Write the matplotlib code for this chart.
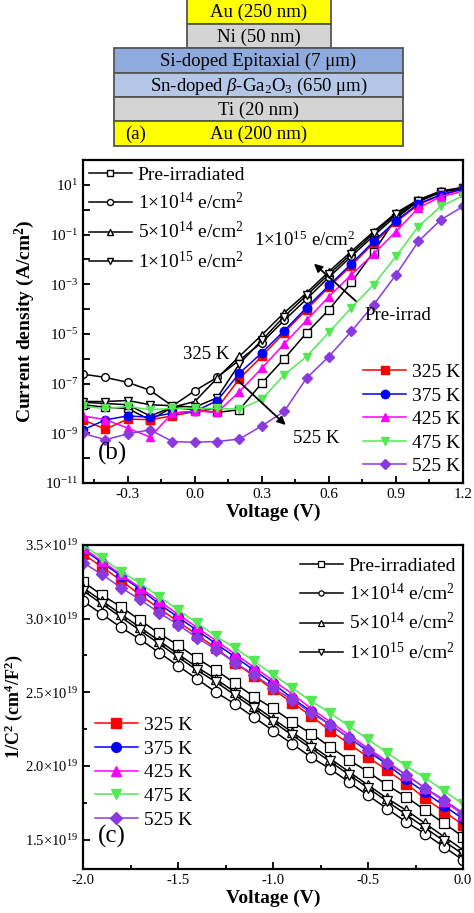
import matplotlib
matplotlib.use('Agg')
import matplotlib.pyplot as plt
from matplotlib.patches import Rectangle
from matplotlib.ticker import FixedLocator, MultipleLocator, FuncFormatter
import numpy as np

plt.rcParams['font.family'] = ['Liberation Serif', 'DejaVu Serif']
plt.rcParams['mathtext.fontset'] = 'custom'
plt.rcParams['mathtext.rm'] = 'Liberation Serif'
plt.rcParams['mathtext.it'] = 'Liberation Serif:italic'
plt.rcParams['mathtext.bf'] = 'Liberation Serif:bold'

W, H = 474, 913

# ---------------- data ----------------
# (b) J-V, log10(J) in A/cm^2
v_iv = [-0.5, -0.4, -0.3, -0.2, -0.1, 0.0, 0.1, 0.2, 0.3, 0.4, 0.5, 0.6, 0.7, 0.8, 0.9, 1.0, 1.1, 1.2]
iv_pre = [-7.85, -7.95, -8.0, -8.46, -7.96, -8.05, -8.16, -8.05, -6.98, -6.0, -4.96, -4.03, -2.93, -1.7, -0.35, 0.35, 0.72, 0.88]
iv_1e14 = [-6.62, -6.75, -6.95, -7.27, -7.9, -7.29, -6.75, -6.05, -5.35, -4.45, -3.6, -2.72, -1.88, -1.05, -0.25, 0.32, 0.7, 0.86]
iv_5e14 = [-7.75, -7.8, -7.85, -8.3, -7.95, -7.72, -6.78, -5.9, -5.04, -4.15, -3.35, -2.49, -1.68, -0.88, -0.13, 0.4, 0.75, 0.9]
iv_1e15 = [-7.72, -7.72, -7.68, -7.85, -7.89, -7.95, -7.57, -6.2, -5.25, -4.3, -3.45, -2.6, -1.78, -0.95, -0.18, 0.35, 0.72, 0.88]
iv_325 = [-8.46, -8.83, -8.43, -8.45, -8.3, -8.12, -7.99, -6.8, -5.9, -4.95, -4.02, -3.12, -2.25, -1.35, -0.5, 0.2, 0.58, 0.82]
iv_375 = [-8.86, -8.46, -8.3, -8.35, -8.19, -8.12, -7.69, -6.58, -5.76, -4.87, -3.94, -3.05, -2.18, -1.28, -0.45, 0.24, 0.6, 0.84]
iv_425 = [-8.3, -8.45, -8.79, -9.15, -8.19, -8.1, -8.16, -7.32, -6.38, -5.4, -4.45, -3.5, -2.62, -1.78, -0.88, 0.07, 0.52, 0.74]
iv_475 = [-7.92, -8.0, -7.92, -8.05, -8.0, -8.0, -8.0, -8.03, -7.63, -6.65, -5.91, -4.94, -3.95, -3.02, -1.88, -0.68, 0.13, 0.56]
iv_525 = [-9.0, -9.26, -9.02, -8.86, -9.33, -9.36, -9.33, -9.23, -8.7, -8.12, -6.78, -5.91, -4.9, -3.83, -2.62, -1.28, -0.41, 0.13]

# (c) 1/C^2 vs V, units of 1e19 cm^4/F^2
v_cv = [-2.0, -1.9, -1.8, -1.7, -1.6, -1.5, -1.4, -1.3, -1.2, -1.1, -1.0,
        -0.9, -0.8, -0.7, -0.6, -0.5, -0.4, -0.3, -0.2, -0.1, 0.0]
cv_pre = [3.25, 3.16, 3.08, 2.99, 2.90, 2.82, 2.73, 2.65, 2.56, 2.47, 2.39, 2.30, 2.22, 2.13, 2.04, 1.96, 1.87, 1.79, 1.70, 1.61, 1.52]
cv_1e14 = [3.12, 3.03, 2.94, 2.86, 2.77, 2.68, 2.59, 2.50, 2.42, 2.33, 2.24, 2.15, 2.06, 1.98, 1.89, 1.80, 1.71, 1.62, 1.54, 1.45, 1.36]
cv_5e14 = [3.21, 3.12, 3.03, 2.94, 2.85, 2.76, 2.67, 2.59, 2.50, 2.41, 2.32, 2.23, 2.14, 2.05, 1.96, 1.87, 1.78, 1.70, 1.61, 1.52, 1.43]
cv_1e15 = [3.19, 3.10, 3.01, 2.92, 2.83, 2.74, 2.65, 2.57, 2.48, 2.39, 2.30, 2.21, 2.12, 2.03, 1.94, 1.85, 1.76, 1.67, 1.58, 1.49, 1.40]
cv_325 = [3.44, 3.35, 3.26, 3.16, 3.07, 2.98, 2.89, 2.80, 2.70, 2.61, 2.52, 2.43, 2.34, 2.24, 2.15, 2.06, 1.97, 1.88, 1.78, 1.69, 1.60]
cv_375 = [3.47, 3.38, 3.29, 3.20, 3.10, 3.01, 2.92, 2.83, 2.74, 2.65, 2.56, 2.46, 2.37, 2.28, 2.19, 2.10, 2.01, 1.91, 1.82, 1.73, 1.64]
cv_425 = [3.48, 3.39, 3.30, 3.21, 3.12, 3.03, 2.94, 2.85, 2.76, 2.67, 2.58, 2.49, 2.39, 2.30, 2.21, 2.12, 2.03, 1.94, 1.85, 1.76, 1.67]
cv_475 = [3.50, 3.41, 3.32, 3.24, 3.15, 3.06, 2.97, 2.88, 2.80, 2.71, 2.62, 2.53, 2.44, 2.36, 2.27, 2.18, 2.09, 2.00, 1.92, 1.83, 1.74]
cv_525 = [3.38, 3.30, 3.21, 3.13, 3.04, 2.96, 2.87, 2.79, 2.70, 2.62, 2.53, 2.45, 2.36, 2.28, 2.19, 2.11, 2.02, 1.94, 1.85, 1.77, 1.68]

fluence_labels = ['Pre-irradiated', r'1$\times$10$^{14}$ e/cm$^2$',
                  r'5$\times$10$^{14}$ e/cm$^2$', r'1$\times$10$^{15}$ e/cm$^2$']
temp_labels = ['325 K', '375 K', '425 K', '475 K', '525 K']

# (a) layer stack: label, colour
layers = [('Au (250 nm)', '#FFFF00'), ('Ni (50 nm)', '#D4D4D4'),
          ('Si-doped Epitaxial (7 \u03bcm)', '#8FAADC'),
          ('Sn-doped $\\beta$-Ga$_2$O$_3$ (650 \u03bcm)', '#B4C7E7'),
          ('Ti (20 nm)', '#D4D4D4'), ('Au (200 nm)', '#FFFF00')]

fl_markers = ['s', 'o', '^', 'v']
t_colors = ['#FF0000', '#0000FF', '#FF00FF', '#55E855', '#8A3BE0']
t_markers = ['s', 'o', '^', 'v', 'D']


def fx(px):
    return px / W


def fy(py):
    return 1 - py / H


fig = plt.figure(figsize=(W / 100, H / 100), dpi=100)

# ---------------- (a) ----------------
axa = fig.add_axes([0, fy(150), 1, 150 / H])
axa.set_xlim(0, W)
axa.set_ylim(150, 0)
axa.axis('off')
boxes = [(187, 331, -2, 24), (187, 331, 24, 48), (114, 403, 48, 73),
         (114, 403, 73, 97), (114, 403, 97, 121), (114, 403, 121, 146)]
for (x0, x1, y0, y1), (lab, col) in zip(boxes, layers):
    axa.add_patch(Rectangle((x0, y0), x1 - x0, y1 - y0, facecolor=col,
                            edgecolor='#555555', lw=1.3))
    axa.text((x0 + x1) / 2, (y0 + y1) / 2 + 1, lab, ha='center', va='center', fontsize=13.5)
axa.text(125, 134, '(a)', ha='left', va='center', fontsize=13.5)

# ---------------- (b) ----------------
axb = fig.add_axes([fx(83), fy(483), fx(463) - fx(83), (483 - 160) / H])
fl_series = [iv_pre, iv_1e14, iv_5e14, iv_1e15]
t_series = [iv_325, iv_375, iv_425, iv_475, iv_525]
hb1 = []
for s, m, lab in zip(fl_series, fl_markers, fluence_labels):
    h, = axb.plot(v_iv, 10 ** np.array(s), '-', color='black', marker=m, ms=5.5,
                  mfc='white', mec='black', lw=1.1, label=lab)
    hb1.append(h)
hb2 = []
for s, c, m, lab in zip(t_series, t_colors, t_markers, temp_labels):
    h, = axb.plot(v_iv, 10 ** np.array(s), '-', color=c, marker=m,
                  ms=5 if m == 'D' else 6, mfc=c, mec=c, lw=1.1, label=lab)
    hb2.append(h)
axb.set_yscale('log')
axb.set_xlim(-0.5, 1.2)
axb.set_ylim(1e-11, 1e2)
axb.yaxis.set_major_locator(FixedLocator([10.0 ** k for k in range(-11, 2)]))
axb.yaxis.set_minor_locator(FixedLocator([]))
axb.yaxis.set_major_formatter(FuncFormatter(
    lambda v, p: r'10$^{%d}$' % round(np.log10(v)) if round(np.log10(v)) % 2 else ''))
axb.xaxis.set_major_locator(FixedLocator([-0.3, 0.0, 0.3, 0.6, 0.9, 1.2]))
axb.xaxis.set_minor_locator(MultipleLocator(0.15))
axb.xaxis.set_major_formatter(FuncFormatter(lambda v, p: '%.1f' % v))
axb.set_xlabel('Voltage (V)', fontsize=14, fontweight='bold', labelpad=2)
axb.set_ylabel(r'Current density (A/cm$^\mathbf{2}$)', fontsize=14, fontweight='bold')
axb.yaxis.set_label_coords(-0.122, 0.5)

leg1 = axb.legend(handles=hb1, loc='upper left', bbox_to_anchor=(fx(89), fy(166)),
                  bbox_transform=fig.transFigure, frameon=False, fontsize=14,
                  handlelength=2.2, handletextpad=0.3, labelspacing=0.42,
                  borderpad=0, borderaxespad=0, markerscale=0.8)
axb.add_artist(leg1)
axb.legend(handles=hb2, loc='lower right', bbox_to_anchor=(fx(460), fy(475)),
           bbox_transform=fig.transFigure, frameon=False, fontsize=14,
           handlelength=2.2, handletextpad=0.3, labelspacing=0.3,
           borderpad=0, borderaxespad=0)

axb.annotate('', xy=(0.524, 10 ** -2.1), xytext=(0.73, 10 ** -3.75),
             arrowprops=dict(arrowstyle='-|>', color='black', lw=1.3, mutation_scale=12))
axb.annotate('', xy=(0.416, 10 ** -8.74), xytext=(0.18, 10 ** -6.77),
             arrowprops=dict(arrowstyle='-|>', color='black', lw=1.3, mutation_scale=12))
axb.text(0.49, 10 ** -1.25, r'1$\times$10$^{15}$ e/cm$^2$', ha='center', va='center', fontsize=13.5)
axb.text(0.76, 10 ** -4.25, 'Pre-irrad', ha='left', va='center', fontsize=13.5)
axb.text(0.05, 10 ** -5.84, '325 K', ha='center', va='center', fontsize=13.5)
axb.text(0.44, 10 ** -9.22, '525 K', ha='left', va='center', fontsize=13.5)
axb.text(0.04, 0.09, '(b)', transform=axb.transAxes, fontsize=18, ha='left', va='center')

# ---------------- (c) ----------------
axc = fig.add_axes([fx(83), fy(869), fx(463) - fx(83), (869 - 545) / H])
cf_series = [cv_pre, cv_1e14, cv_5e14, cv_1e15]
ct_series = [cv_325, cv_375, cv_425, cv_475, cv_525]
hc1 = []
for s, m, lab in zip(cf_series, fl_markers, fluence_labels):
    h, = axc.plot(v_cv, np.array(s) * 1e19, '-', color='black', marker=m, ms=7.5,
                  mfc='white', mec='black', mew=0.9, lw=1.1, label=lab)
    hc1.append(h)
hc2 = []
for s, c, m, lab in zip(ct_series, t_colors, t_markers, temp_labels):
    h, = axc.plot(v_cv, np.array(s) * 1e19, '-', color=c, marker=m,
                  ms=6 if m == 'D' else 7, mfc=c, mec=c, lw=1.1, label=lab)
    hc2.append(h)
axc.set_xlim(-2.0, 0.0)
axc.set_ylim(1.3e19, 3.5e19)
axc.yaxis.set_major_locator(MultipleLocator(0.5e19))
axc.yaxis.set_minor_locator(MultipleLocator(0.25e19))
axc.yaxis.set_major_formatter(FuncFormatter(lambda v, p: r'%.1f$\times$10$^{19}$' % (v / 1e19)))
axc.xaxis.set_major_locator(MultipleLocator(0.5))
axc.xaxis.set_minor_locator(MultipleLocator(0.25))
axc.xaxis.set_major_formatter(FuncFormatter(lambda v, p: '%.1f' % v))
axc.set_xlabel('Voltage (V)', fontsize=14, fontweight='bold', labelpad=2)
axc.set_ylabel(r'1/C$^\mathbf{2}$ (cm$^\mathbf{4}$/F$^\mathbf{2}$)', fontsize=13, fontweight='bold')
axc.yaxis.set_label_coords(-0.153, 0.5)

leg3 = axc.legend(handles=hc1, loc='upper right', bbox_to_anchor=(fx(456), fy(557)),
                  bbox_transform=fig.transFigure, frameon=False, fontsize=14,
                  handlelength=2.2, handletextpad=0.3, labelspacing=0.42,
                  borderpad=0, borderaxespad=0, markerscale=0.5)
axc.add_artist(leg3)
axc.legend(handles=hc2, loc='lower left', bbox_to_anchor=(fx(95), fy(829)),
           bbox_transform=fig.transFigure, frameon=False, fontsize=14,
           handlelength=2.2, handletextpad=0.3, labelspacing=0.32,
           borderpad=0, borderaxespad=0)
axc.text(0.04, 0.1, '(c)', transform=axc.transAxes, fontsize=18, ha='left', va='center')

for ax in (axb, axc):
    for sp in ax.spines.values():
        sp.set_linewidth(1.6)
    ax.tick_params(which='both', direction='in', labelsize=11, width=1.3)
    ax.tick_params(which='major', length=5)
    ax.tick_params(which='minor', length=3)
axc.tick_params(which='major', labelsize=10.5)

fig.savefig('out.png', dpi=100)
